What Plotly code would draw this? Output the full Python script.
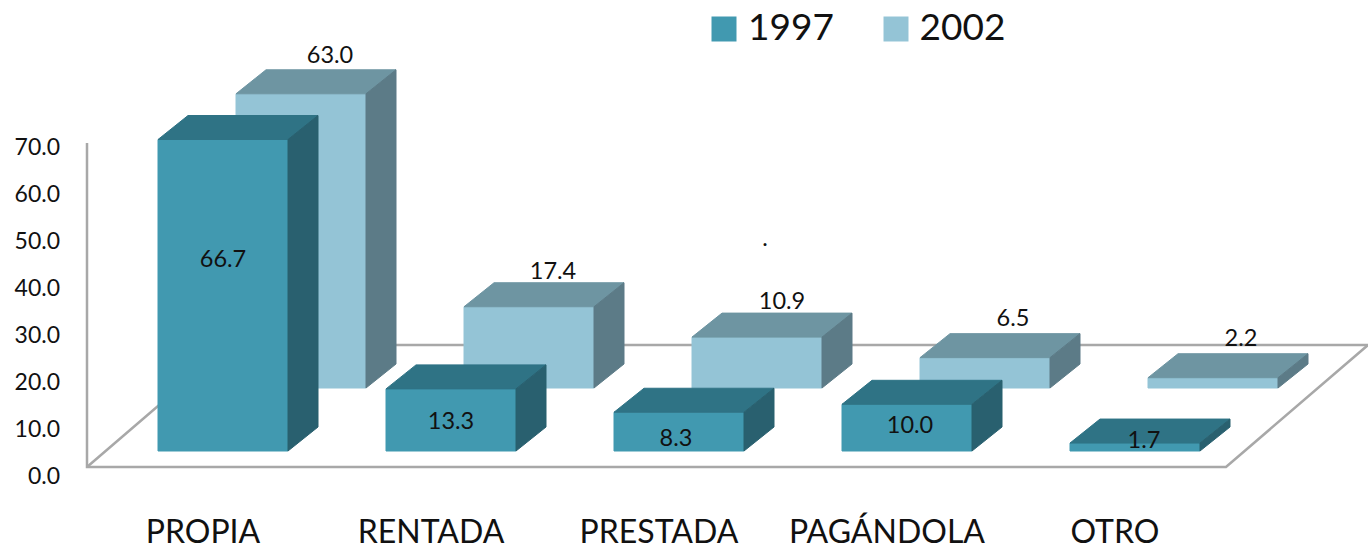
import plotly.graph_objects as go

# ---- data ----
categories = ["PROPIA", "RENTADA", "PRESTADA", "PAGÁNDOLA", "OTRO"]
series_names = ["1997", "2002"]
values_1997 = [66.7, 13.3, 8.3, 10.0, 1.7]
values_2002 = [63.0, 17.4, 10.9, 6.5, 2.2]
axis_ticks = [0, 10, 20, 30, 40, 50, 60, 70]

# ---- styling / geometry (pixels on the 1368x550 page) ----
FONT = "Lato, 'Open Sans', sans-serif"
W, H = 1368, 550
M_L, M_B = 61, 40
PLOT_B = H - M_B
CAT_PX0, CAT_STEP = 203, 228      # category position -> page x
BASE_PX, UNIT_PX = 451, 4.67      # value 0 (front row) and pixels per unit
BAR_W, BAR_DX = 130, -45          # bar width and left edge relative to category
DEPTH = (30, 24)                  # oblique depth of a bar
ROW = (78, 63)                    # shift of the 2002 row behind the 1997 row
COL_1997 = dict(front="#4199B0", top="#2F7385", side="#29606F")
COL_2002 = dict(front="#94C4D6", top="#6E95A2", side="#5C7B87")
GREY = "#A8A8A8"

# label offsets from the centre of the bar's front-top edge (pixels: dx, dy down)
LABEL_OFF_1997 = [(0, 122), (0, 34), (-3, 28), (3, 23), (9, -1)]
LABEL_OFF_2002 = [(29, -37), (24, -34), (25, -34), (28, -38), (28, -38)]

def dx(px):
    return (px - CAT_PX0) / CAT_STEP

def dy(px):
    return (BASE_PX - px) / UNIT_PX

fig = go.Figure()

def poly(xs, ys, color, name):
    fig.add_trace(go.Scatter(x=xs, y=ys, mode="lines", fill="toself", fillcolor=color,
                             line=dict(color=color, width=1), hoverinfo="skip",
                             showlegend=False, name=name))

def frame(pts):
    fig.add_trace(go.Scatter(x=[dx(p[0]) for p in pts], y=[dy(p[1]) for p in pts], mode="lines",
                             line=dict(color=GREY, width=2.5), hoverinfo="skip", showlegend=False))

# chart frame: wall line and floor
frame([(87, 143), (87, 467), (1226, 467), (1368, 345)])
frame([(87, 467), (229, 345), (1368, 345)])

def add_series(values, colors, row, name):
    ox, oy = row
    f_x, f_y, t_x, t_y, s_x, s_y = [], [], [], [], [], []
    ddx, ddy = DEPTH[0] / CAT_STEP, DEPTH[1] / UNIT_PX
    wid = BAR_W / CAT_STEP
    for i, v in enumerate(values):
        x0 = i + (BAR_DX + ox) / CAT_STEP
        x1 = x0 + wid
        y0 = oy / UNIT_PX
        y1 = y0 + v
        f_x += [x0, x1, x1, x0, x0, None]
        f_y += [y0, y0, y1, y1, y0, None]
        t_x += [x0, x1, x1 + ddx, x0 + ddx, x0, None]
        t_y += [y1, y1, y1 + ddy, y1 + ddy, y1, None]
        s_x += [x1, x1 + ddx, x1 + ddx, x1, x1, None]
        s_y += [y0, y0 + ddy, y1 + ddy, y1, y0, None]
    poly(f_x, f_y, colors["front"], name)
    poly(t_x, t_y, colors["top"], name)
    poly(s_x, s_y, colors["side"], name)

add_series(values_2002, COL_2002, ROW, series_names[1])
add_series(values_1997, COL_1997, (0, 0), series_names[0])

def add_labels(values, offs, row):
    ox, oy = row
    xs = [i + (BAR_DX + ox + BAR_W / 2 + offs[i][0]) / CAT_STEP for i in range(len(values))]
    ys = [v + (oy - offs[i][1]) / UNIT_PX for i, v in enumerate(values)]
    fig.add_trace(go.Scatter(x=xs, y=ys, mode="text", text=[f"{v:.1f}" for v in values],
                             textposition="middle center", hoverinfo="skip", showlegend=False,
                             textfont=dict(family=FONT, size=23.5, color="#111111")))

add_labels(values_2002, LABEL_OFF_2002, ROW)
add_labels(values_1997, LABEL_OFF_1997, (0, 0))

# stray dot present in the source
fig.add_trace(go.Scatter(x=[dx(765)], y=[dy(240)], mode="text", text=["."], hoverinfo="skip",
                         showlegend=False, textfont=dict(family=FONT, size=23.5, color="#111111")))

# key drawn at large size
for name, col, px, tx in zip(series_names, [COL_1997, COL_2002], [724, 896], [748, 919.5]):
    fig.add_trace(go.Scatter(x=[dx(px)], y=[dy(29)], mode="markers", hoverinfo="skip", showlegend=False,
                             marker=dict(symbol="square", size=25, color=col["front"])))
    fig.add_trace(go.Scatter(x=[dx(tx)], y=[dy(31)], mode="text", text=[name],
                             textposition="middle right", hoverinfo="skip", showlegend=False,
                             textfont=dict(family=FONT, size=37, color="#111111")))

# invisible trace so the value axis on the left is drawn by the library
fig.add_trace(go.Scatter(x=[0], y=[0], yaxis="y2", mode="markers", opacity=0,
                         hoverinfo="skip", showlegend=False))

fig.update_layout(
    width=W, height=H, paper_bgcolor="white", plot_bgcolor="white",
    margin=dict(l=M_L, r=0, t=0, b=M_B, pad=0),
    showlegend=False,
    font=dict(family=FONT, color="#111111"),
    xaxis=dict(range=[dx(M_L), dx(W)], tickmode="array", tickvals=list(range(len(categories))),
               ticktext=categories, showgrid=False, zeroline=False, showline=False, automargin=False,
               ticks="", tickfont=dict(family=FONT, size=32, color="#111111")),
    yaxis=dict(range=[dy(PLOT_B), dy(0)], visible=False, automargin=False),
    yaxis2=dict(overlaying="y", side="left", anchor="x", automargin=False,
                range=[(476 - PLOT_B) / 4.7, 476 / 4.7],
                tickmode="array", tickvals=axis_ticks, ticktext=[f"{t:.1f}" for t in axis_ticks],
                showgrid=False, zeroline=False, showline=False, ticks="",
                tickfont=dict(family=FONT, size=23, color="#111111")),
)

fig.write_html("out.html", config=dict(displayModeBar=False),
               post_script="document.body.style.margin='0';")
